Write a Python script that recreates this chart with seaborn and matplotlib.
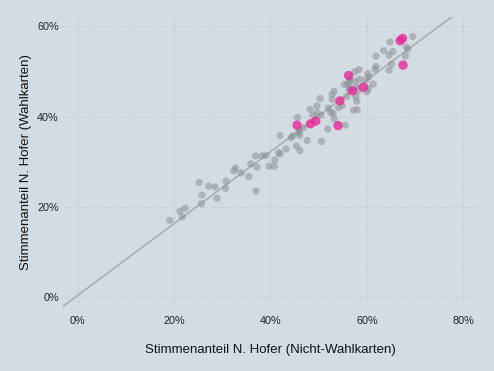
import matplotlib
matplotlib.use("Agg")
import matplotlib.pyplot as plt
import matplotlib.ticker as mtick
import seaborn as sns
import pandas as pd
import numpy as np

# --- data (percent values) ---
grey_x = [19.1, 21.2, 21.7, 22.3, 25.2, 25.8, 25.7, 27.2, 28.5, 28.9, 30.7, 30.8,
          32.4, 32.8, 33.9, 35.5, 35.9, 36.9, 37.2, 37.0, 38.3, 39.1, 39.7, 40.8,
          40.9, 41.7, 42.0, 42.0, 43.2, 44.3, 44.6, 45.4, 46.1, 45.6, 45.9, 46.1,
          46.8, 47.6, 48.2, 48.8, 49.6, 49.7, 50.5, 50.3, 50.6, 51.9, 52.0, 52.8,
          52.8, 53.2, 53.0, 53.2, 54.1, 54.9, 55.5, 55.8, 55.3, 56.3, 56.5, 57.5,
          57.5, 57.9, 58.0, 57.2, 58.4, 58.2, 58.5, 60.0, 60.2, 60.4, 59.8, 61.3,
          61.9, 61.9, 61.7, 63.5, 64.6, 64.6, 65.1, 65.4, 64.8, 68.0, 68.2, 68.5,
          69.5, 45.9, 52.5, 56.0, 56.6, 57.9, 60.3, 56.3, 57.7]
grey_y = [17.0, 19.0, 17.8, 19.7, 25.4, 22.6, 20.7, 24.6, 24.4, 21.9, 24.1, 25.7,
          28.0, 28.6, 27.5, 26.7, 29.5, 31.3, 28.8, 23.5, 31.3, 31.4, 29.0, 29.0,
          30.4, 32.0, 31.7, 35.8, 32.8, 35.3, 35.7, 33.5, 32.5, 39.8, 36.4, 35.8,
          37.5, 34.7, 41.6, 40.3, 42.4, 40.9, 40.3, 44.0, 34.5, 37.2, 41.9, 43.8,
          44.9, 45.6, 40.7, 39.5, 42.0, 42.4, 38.1, 44.4, 47.1, 47.7, 46.4, 49.9,
          47.8, 43.4, 41.5, 41.4, 50.4, 45.7, 48.3, 45.5, 49.5, 48.8, 48.1, 47.2,
          53.4, 51.1, 50.5, 54.6, 53.6, 50.3, 51.6, 54.4, 56.5, 53.4, 55.4, 54.9,
          57.7, 36.9, 40.9, 47.2, 48.2, 46.6, 46.2, 45.8, 44.4]

pink_x = [45.5, 48.3, 49.4, 54.0, 54.4, 56.2, 57.0, 59.3, 66.9, 67.4, 67.5]
pink_y = [38.1, 38.4, 39.0, 38.0, 43.5, 49.1, 45.7, 46.5, 56.8, 57.3, 51.4]

fit_slope = 0.795
fit_intercept = 0.004

x_ticks = [0.0, 0.2, 0.4, 0.6, 0.8]
y_ticks = [0.0, 0.2, 0.4, 0.6]
x_label = "Stimmenanteil N. Hofer (Nicht-Wahlkarten)"
y_label = "Stimmenanteil N. Hofer (Wahlkarten)"

grey_df = pd.DataFrame({"x": np.array(grey_x) / 100, "y": np.array(grey_y) / 100})
pink_df = pd.DataFrame({"x": np.array(pink_x) / 100, "y": np.array(pink_y) / 100})

bg = "#d3dce3"
sns.set_theme(style="white")
plt.rcParams["font.family"] = ["Liberation Sans", "DejaVu Sans"]

fig = plt.figure(figsize=(4.94, 3.71), dpi=100, facecolor=bg)
ax = fig.add_axes([0.1275, 0.1698, 0.8401, 0.7844])
ax.set_facecolor(bg)

ax.set_xlim(-0.0305, 0.8305)
ax.set_ylim(-0.024, 0.6205)

ax.grid(True, color="#bcc3c9", linestyle=(0, (1, 2)), linewidth=0.8)
ax.set_axisbelow(True)

ax.axline((0, fit_intercept), slope=fit_slope, color="#a9adb0", linewidth=1.2, zorder=1)

sns.scatterplot(data=grey_df, x="x", y="y", ax=ax, color="#8d9092", alpha=0.55,
                s=27, edgecolor="none", zorder=2)
sns.scatterplot(data=pink_df, x="x", y="y", ax=ax, color="#e8279a", alpha=0.8,
                s=45, edgecolor="none", zorder=3)

for sp in ax.spines.values():
    sp.set_visible(False)

ax.set_xticks(x_ticks)
ax.set_yticks(y_ticks)
ax.xaxis.set_major_formatter(mtick.PercentFormatter(1.0, decimals=0))
ax.yaxis.set_major_formatter(mtick.PercentFormatter(1.0, decimals=0))
ax.tick_params(axis="both", length=0, labelsize=7.8, labelcolor="#222222")
ax.tick_params(axis="x", pad=6)
ax.tick_params(axis="y", pad=3)

ax.set_xlabel(x_label, fontsize=9.5, color="#111111", labelpad=12.5)
ax.set_ylabel(y_label, fontsize=9.5, color="#111111", labelpad=4)

fig.savefig("out.png", dpi=100, facecolor=bg)
